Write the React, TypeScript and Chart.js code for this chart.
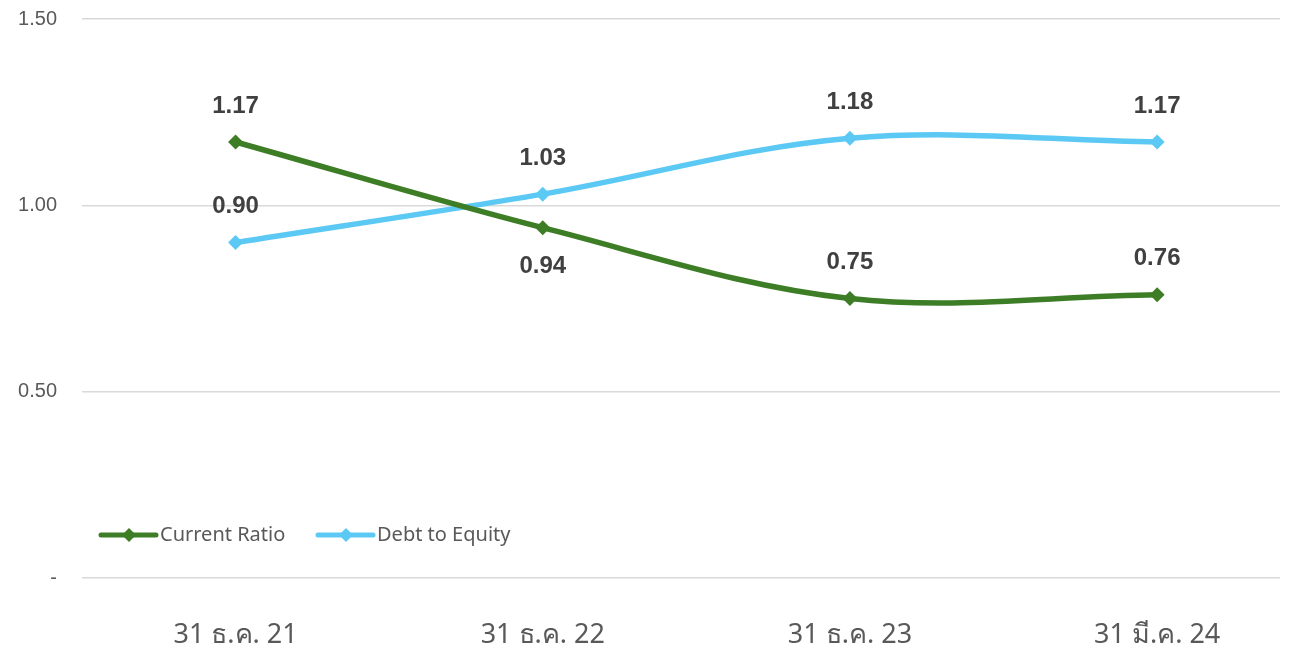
import React, { useEffect, useRef } from "react";
import { Chart, registerables } from "chart.js";

Chart.register(...registerables);

const categories = ["31 ธ.ค. 21", "31 ธ.ค. 22", "31 ธ.ค. 23", "31 มี.ค. 24"];
const currentRatio = [1.17, 0.94, 0.75, 0.76];
const debtToEquity = [0.9, 1.03, 1.18, 1.17];
const currentRatioLabelPos = ["above", "below", "above", "above"];
const debtToEquityLabelPos = ["above", "above", "above", "above"];
const yTicks = [0, 0.5, 1.0, 1.5];

const GREEN = "#3D7D26";
const BLUE = "#5CC9F5";

const labelPlugin = {
  id: "valueLabels",
  afterDatasetsDraw(chart: any) {
    const ctx = chart.ctx;
    ctx.save();
    ctx.font = "bold 24px 'Liberation Sans', Arial, sans-serif";
    ctx.fillStyle = "#404040";
    ctx.textAlign = "center";
    ctx.textBaseline = "middle";
    chart.data.datasets.forEach((ds: any, i: number) => {
      const meta = chart.getDatasetMeta(i);
      meta.data.forEach((pt: any, j: number) => {
        const pos = ds.labelPos[j];
        const y = pos === "below" ? pt.y + 39 : pt.y - 36;
        ctx.fillText(ds.data[j].y.toFixed(2), pt.x, y);
      });
    });
    ctx.restore();
  },
};

const legendPlugin = {
  id: "customLegend",
  afterDraw(chart: any) {
    const ctx = chart.ctx;
    const y = 535;
    const starts = [101, 318];
    ctx.save();
    ctx.font = "20px 'Noto Sans', sans-serif";
    ctx.textBaseline = "middle";
    chart.data.datasets.forEach((ds: any, i: number) => {
      const x0 = starts[i];
      ctx.strokeStyle = ds.borderColor;
      ctx.lineWidth = 5;
      ctx.lineCap = "round";
      ctx.beginPath();
      ctx.moveTo(x0, y);
      ctx.lineTo(x0 + 55, y);
      ctx.stroke();
      ctx.fillStyle = ds.borderColor;
      ctx.beginPath();
      const cx = x0 + 28;
      const r = 7;
      ctx.moveTo(cx, y - r);
      ctx.lineTo(cx + r, y);
      ctx.lineTo(cx, y + r);
      ctx.lineTo(cx - r, y);
      ctx.closePath();
      ctx.fill();
      ctx.fillStyle = "#595959";
      ctx.textAlign = "left";
      ctx.fillText(ds.label, x0 + 59, y);
    });
    ctx.restore();
  },
};

export default function App() {
  const ref = useRef<HTMLCanvasElement | null>(null);
  useEffect(() => {
    if (!ref.current) return;
    const chart = new Chart(ref.current, {
      type: "line",
      data: {
        datasets: [
          {
            label: "Current Ratio",
            data: currentRatio.map((v, i) => ({ x: i, y: v })),
            borderColor: GREEN,
            backgroundColor: GREEN,
            borderWidth: 5.5,
            pointStyle: "rectRot",
            pointRadius: 7.5,
            pointBorderWidth: 0,
            tension: 0.35,
            labelPos: currentRatioLabelPos,
          } as any,
          {
            label: "Debt to Equity",
            data: debtToEquity.map((v, i) => ({ x: i, y: v })),
            borderColor: BLUE,
            backgroundColor: BLUE,
            borderWidth: 5.5,
            pointStyle: "rectRot",
            pointRadius: 7.5,
            pointBorderWidth: 0,
            tension: 0.35,
            labelPos: debtToEquityLabelPos,
          } as any,
        ],
      },
      options: {
        animation: false,
        responsive: false,
        maintainAspectRatio: false,
        layout: { autoPadding: false, padding: { top: 19, right: 14, left: 0, bottom: 0 } },
        plugins: { legend: { display: false }, tooltip: { enabled: false } },
        scales: {
          x: {
            type: "linear",
            min: -0.5,
            max: 3.4,
            grid: { display: false },
            border: { display: false },
            afterBuildTicks: (scale: any) => {
              scale.ticks = categories.map((_, i) => ({ value: i }));
            },
            afterFit: (scale: any) => {
              scale.height = 71;
              scale.paddingLeft = 0;
              scale.paddingRight = 0;
            },
            ticks: {
              autoSkip: false,
              maxRotation: 0,
              padding: 33,
              color: "#595959",
              font: { size: 27, family: "'Noto Sans', sans-serif" },
              callback: (v: any) => categories[v] ?? "",
            },
          },
          y: {
            min: 0,
            max: 1.5,
            afterBuildTicks: (scale: any) => {
              scale.ticks = yTicks.map((v) => ({ value: v }));
            },
            afterFit: (scale: any) => {
              scale.width = 82;
              scale.paddingTop = 0;
              scale.paddingBottom = 0;
            },
            grid: { color: "#D9D9D9", lineWidth: 1.5, drawTicks: false },
            border: { display: false },
            ticks: {
              padding: 25,
              color: "#595959",
              font: { size: 20, family: "'Liberation Sans', Arial, sans-serif" },
              callback: (v: any) => (v === 0 ? "-" : Number(v).toFixed(2)),
            },
          },
        },
      } as any,
      plugins: [labelPlugin, legendPlugin],
    });
    return () => chart.destroy();
  }, []);
  return (
    <div style={{ position: "absolute", left: 0, top: 0, width: 1294, height: 649, background: "#fff" }}>
      <canvas ref={ref} width={1294} height={649} style={{ width: 1294, height: 649 }} />
    </div>
  );
}
